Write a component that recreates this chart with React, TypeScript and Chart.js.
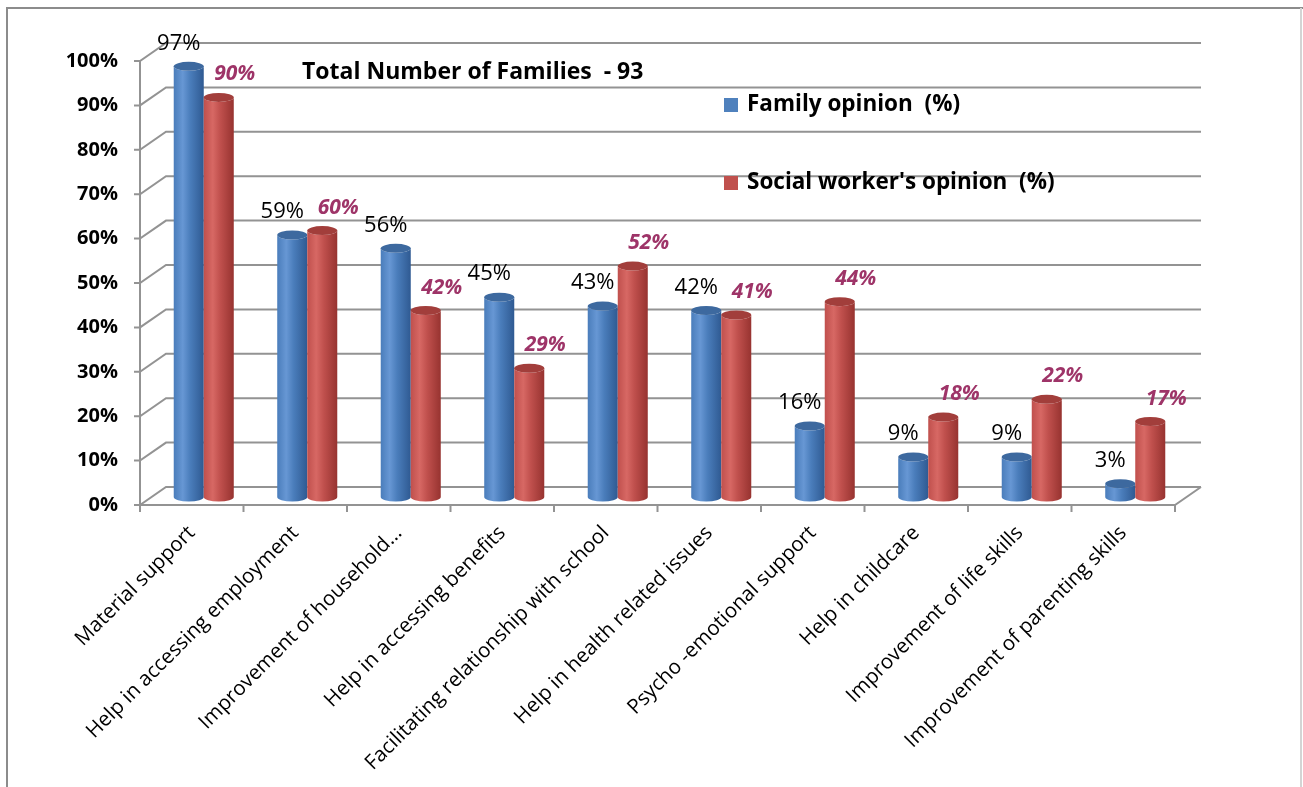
import React, { useEffect, useRef } from 'react';
import { Chart, registerables } from 'chart.js';

Chart.register(...registerables);

const categories = [
  'Material support',
  'Help in accessing employment',
  'Improvement of household...',
  'Help in accessing benefits',
  'Facilitating relationship with school',
  'Help in health related issues',
  'Psycho -emotional support',
  'Help in childcare',
  'Improvement of life skills',
  'Improvement of parenting skills',
];
const familyOpinion = [97, 59, 56, 45, 43, 42, 16, 9, 9, 3];
const socialWorkerOpinion = [90, 60, 42, 29, 52, 41, 44, 18, 22, 17];
const seriesLabels = ['Family opinion  (%)', "Social worker's opinion  (%)"];
const yTickValues = [0, 10, 20, 30, 40, 50, 60, 70, 80, 90, 100];
const chartTitle = 'Total Number of Families  - 93';

const FONT = '"Open Sans", Lato, "DejaVu Sans", sans-serif';
const BLUE = '#4F81BD';
const RED = '#C0504D';
const LABEL_RED = '#9E3468';
const GRID = '#939393';
// depth of the 3D box (back wall offset) and half depth for the bars
const DEPTH_X = 26;
const DEPTH_Y = -18;
const BAR_DX = 12;
const BAR_DY = -8;

const palettes = [
  { dark: '#2f5a92', mid: '#4a7dbb', light: '#6797d4', top: '#3d699f' },
  { dark: '#973330', mid: '#c0504d', light: '#d76864', top: '#a23e3b' },
];

function drawCylinder(ctx: CanvasRenderingContext2D, cx: number, top: number, base: number, w: number, p: any) {
  const rx = w / 2;
  const ry = 4.5;
  const l = cx - rx;
  const r = cx + rx;
  const g = ctx.createLinearGradient(l, 0, r, 0);
  g.addColorStop(0, p.mid);
  g.addColorStop(0.3, p.light);
  g.addColorStop(0.55, p.mid);
  g.addColorStop(1, p.dark);
  ctx.beginPath();
  ctx.moveTo(l, top);
  ctx.lineTo(l, base);
  ctx.ellipse(cx, base, rx, ry, 0, Math.PI, 0, true);
  ctx.lineTo(r, top);
  ctx.ellipse(cx, top, rx, ry, 0, 0, Math.PI, false);
  ctx.closePath();
  ctx.fillStyle = g;
  ctx.fill();
  ctx.beginPath();
  ctx.ellipse(cx, top, rx, ry, 0, 0, Math.PI * 2);
  ctx.fillStyle = p.top;
  ctx.fill();
}

const framePlugin = {
  id: 'frame3d',
  beforeDraw(chart: any) {
    const ctx = chart.ctx;
    ctx.save();
    ctx.fillStyle = '#ffffff';
    ctx.fillRect(0, 0, chart.width, chart.height);
    ctx.lineWidth = 2;
    ctx.strokeStyle = '#8c8c8c';
    ctx.beginPath();
    ctx.moveTo(7, chart.height);
    ctx.lineTo(7, 8);
    ctx.lineTo(chart.width, 8);
    ctx.stroke();
    ctx.strokeStyle = '#d4d4d4';
    ctx.beginPath();
    ctx.moveTo(1301, 8);
    ctx.lineTo(1301, chart.height);
    ctx.stroke();
    ctx.restore();
  },
  beforeDatasetsDraw(chart: any) {
    const ctx = chart.ctx;
    const { left, right, top, bottom } = chart.chartArea;
    const ys = chart.scales.y;
    ctx.save();
    ctx.strokeStyle = GRID;
    ctx.lineWidth = 2;
    ctx.lineCap = 'butt';
    yTickValues.forEach((v) => {
      const y = ys.getPixelForValue(v);
      ctx.beginPath();
      ctx.moveTo(left - 6, y);
      ctx.lineTo(left, y);
      ctx.lineTo(left + DEPTH_X, y + DEPTH_Y);
      ctx.lineTo(right + DEPTH_X, y + DEPTH_Y);
      ctx.stroke();
    });
    // front axes and floor edge
    ctx.beginPath();
    ctx.moveTo(left, top);
    ctx.lineTo(left, bottom);
    ctx.lineTo(right, bottom);
    ctx.lineTo(right + DEPTH_X, bottom + DEPTH_Y);
    ctx.stroke();
    const n = categories.length;
    for (let i = 0; i <= n; i++) {
      const x = left + (i * (right - left)) / n;
      ctx.beginPath();
      ctx.moveTo(x, bottom);
      ctx.lineTo(x, bottom + 7);
      ctx.stroke();
    }
    ctx.restore();
  },
  afterDatasetsDraw(chart: any) {
    const ctx = chart.ctx;
    ctx.save();
    const metas = [chart.getDatasetMeta(0), chart.getDatasetMeta(1)];
    const n = categories.length;
    for (let i = 0; i < n; i++) {
      metas.forEach((meta: any, d: number) => {
        const el = meta.data[i];
        drawCylinder(ctx, el.x + BAR_DX, el.y + BAR_DY, el.base + BAR_DY, el.width, palettes[d]);
      });
    }
    // data labels
    ctx.textBaseline = 'middle';
    ctx.textAlign = 'center';
    metas.forEach((meta: any, d: number) => {
      const values = chart.data.datasets[d].data;
      meta.data.forEach((el: any, i: number) => {
        const txt = values[i] + '%';
        const x = el.x + BAR_DX + (d === 0 ? -10 : 16);
        const y = el.y + BAR_DY - 23;
        if (d === 0) {
          ctx.font = `22px ${FONT}`;
          ctx.fillStyle = '#000000';
        } else {
          ctx.font = `italic bold 21px ${FONT}`;
          ctx.fillStyle = LABEL_RED;
        }
        ctx.fillText(txt, x, y);
      });
    });
    // title text
    ctx.textAlign = 'left';
    ctx.fillStyle = '#000000';
    ctx.font = `bold 23px ${FONT}`;
    ctx.fillText(chartTitle, 302, 72);
    // legend
    const legendY = [105, 183];
    chart.data.datasets.forEach((ds: any, d: number) => {
      ctx.fillStyle = d === 0 ? BLUE : RED;
      ctx.fillRect(724, legendY[d] - 7, 14, 14);
      ctx.fillStyle = '#000000';
      ctx.font = `bold 22.5px ${FONT}`;
      ctx.fillText(ds.label, 747, legendY[d]);
    });
    ctx.restore();
  },
};

export default function App() {
  const ref = useRef<HTMLCanvasElement | null>(null);
  useEffect(() => {
    if (!ref.current) return;
    const chart = new Chart(ref.current, {
      type: 'bar',
      data: {
        labels: categories,
        datasets: [
          { label: seriesLabels[0], data: familyOpinion, backgroundColor: 'rgba(0,0,0,0)', borderWidth: 0 },
          { label: seriesLabels[1], data: socialWorkerOpinion, backgroundColor: 'rgba(0,0,0,0)', borderWidth: 0 },
        ],
      },
      options: {
        animation: false,
        responsive: false,
        events: [],
        categoryPercentage: 0.58,
        barPercentage: 1,
        layout: { padding: { left: 0, top: 61, right: 128, bottom: 0 } },
        plugins: {
          legend: { display: false },
          tooltip: { enabled: false },
          title: { display: false },
        },
        scales: {
          x: {
            grid: { display: false, drawTicks: false },
            border: { display: false },
            ticks: {
              autoSkip: false,
              minRotation: 45,
              maxRotation: 45,
              padding: 16,
              color: '#000000',
              font: { family: FONT, size: 20.5 },
            },
            afterFit: (s: any) => {
              s.height = 282;
            },
          },
          y: {
            min: 0,
            max: 100,
            grid: { display: false, drawTicks: false },
            border: { display: false },
            ticks: {
              stepSize: 10,
              padding: 22,
              color: '#000000',
              font: { family: FONT, size: 20, weight: 'bold' },
              callback: (v: any) => v + '%',
            },
            afterFit: (s: any) => {
              s.width = 140;
            },
          },
        },
      },
      plugins: [framePlugin],
    });
    return () => chart.destroy();
  }, []);
  return (
    <div style={{ position: 'absolute', left: 0, top: 0, width: 1303, height: 787 }}>
      <canvas ref={ref} width={1303} height={787} style={{ display: 'block' }} />
    </div>
  );
}
